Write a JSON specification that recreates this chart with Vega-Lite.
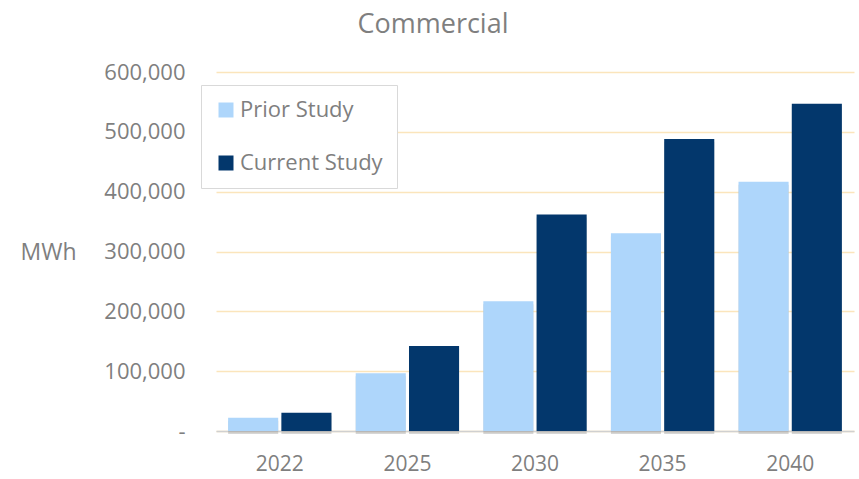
{
  "$schema": "https://vega.github.io/schema/vega-lite/v6.json",
  "autosize": {"type": "none"},
  "width": 638,
  "height": 359,
  "padding": {"left": 216, "top": 72, "right": 5, "bottom": 48},
  "background": "white",
  "title": {
    "text": "Commercial",
    "fontSize": 27,
    "font": "Open Sans",
    "fontWeight": "normal",
    "color": "#7f7f7f",
    "offset": 22,
    "dx": -102,
    "anchor": "middle"
  },
  "config": {
    "view": {"stroke": null},
    "font": "Open Sans"
  },
  "data": {
    "values": [
      {"year": "2022", "series": "Prior Study", "mwh": 22000},
      {"year": "2022", "series": "Current Study", "mwh": 30500},
      {"year": "2025", "series": "Prior Study", "mwh": 96500},
      {"year": "2025", "series": "Current Study", "mwh": 142000},
      {"year": "2030", "series": "Prior Study", "mwh": 217000},
      {"year": "2030", "series": "Current Study", "mwh": 362000},
      {"year": "2035", "series": "Prior Study", "mwh": 330500},
      {"year": "2035", "series": "Current Study", "mwh": 488000},
      {"year": "2040", "series": "Prior Study", "mwh": 416500},
      {"year": "2040", "series": "Current Study", "mwh": 547000}
    ]
  },
  "encoding": {
    "x": {
      "field": "year",
      "type": "nominal",
      "scale": {"paddingInner": 0.19, "paddingOuter": 0.095},
      "axis": {
        "title": null,
        "labelAngle": 0,
        "labelFontSize": 21,
        "labelColor": "#7f7f7f",
        "labelPadding": 22,
        "ticks": false,
        "domainColor": "#d0d0d0",
        "domainWidth": 1.5,
        "grid": false
      }
    },
    "xOffset": {
      "field": "series",
      "type": "nominal",
      "sort": ["Prior Study", "Current Study"],
      "scale": {"paddingInner": 0.06}
    },
    "y": {
      "field": "mwh",
      "type": "quantitative",
      "scale": {"domain": [0, 600000], "nice": false},
      "axis": {
        "values": [0, 100000, 200000, 300000, 400000, 500000, 600000],
        "labelExpr": "datum.value === 0 ? '-\u00a0\u00a0' : format(datum.value, ',')",
        "labelFontSize": 22,
        "labelColor": "#7f7f7f",
        "labelPadding": 31,
        "ticks": false,
        "domain": false,
        "grid": true,
        "gridColor": "#fbe5bc",
        "gridWidth": 1.5,
        "title": "MWh",
        "titleAngle": 0,
        "titleFontSize": 23,
        "titleFontWeight": "normal",
        "titleColor": "#7f7f7f",
        "titleAlign": "left",
        "titleBaseline": "middle",
        "titleX": -196,
        "titleY": 180
      }
    }
  },
  "layer": [
    {
      "mark": {"type": "bar", "color": "#8a8a8a", "opacity": 0.35, "xOffset": 4, "yOffset": 3}
    },
    {
      "mark": {"type": "bar"},
      "encoding": {
        "color": {
          "field": "series",
          "type": "nominal",
          "sort": ["Prior Study", "Current Study"],
          "scale": {"domain": ["Prior Study", "Current Study"], "range": ["#aed6fb", "#03376c"]},
          "legend": {
            "title": null,
            "orient": "none",
            "legendX": -15,
            "legendY": 13,
            "symbolType": "square",
            "symbolSize": 225,
            "symbolStrokeWidth": 0,
            "labelFontSize": 22,
            "labelColor": "#7f7f7f",
            "labelOffset": 3,
            "rowPadding": 31,
            "padding": 14,
            "strokeColor": "#d9d9d9",
            "fillColor": "white"
          }
        }
      }
    }
  ]
}
